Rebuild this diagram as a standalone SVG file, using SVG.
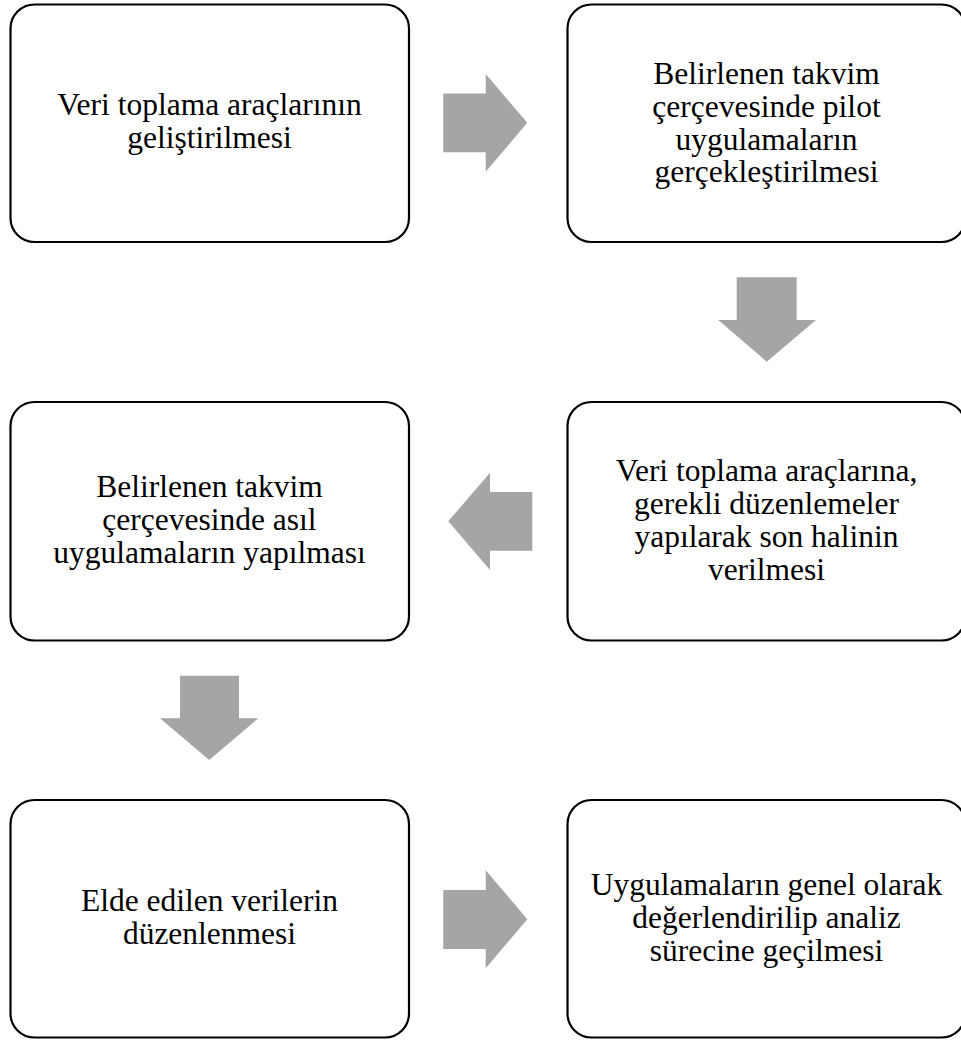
<svg xmlns="http://www.w3.org/2000/svg" width="961" height="1041" viewBox="0 0 961 1041">
<style>
.box{fill:#ffffff;stroke:#000000;stroke-width:2.2}
.arr{fill:#a5a5a5;stroke:none}
text{font-family:"Liberation Serif","Times New Roman",serif;font-size:31.5px;fill:#000000;text-anchor:middle}
</style>
<rect width="961" height="1041" fill="#ffffff"/>
<g id="connectors">
<polygon class="arr" points="443.3,93.5 485.7,93.5 485.7,74 527.3,122.8 485.7,171.7 485.7,152.3 443.3,152.3"/>
<polygon class="arr" points="736.7,277.3 796.7,277.3 796.7,320 816,320 766.7,361.7 718.3,320 736.7,320"/>
<polygon class="arr" points="532.3,492 490,492 490,472.7 448.3,521.3 490,570 490,550.7 532.3,550.7"/>
<polygon class="arr" points="180,675.7 239,675.7 239,718.3 258.3,718.3 209.2,760 160,718.3 180,718.3"/>
<polygon class="arr" points="443.3,890 485.7,890 485.7,870.3 527.3,919.2 485.7,968.3 485.7,949 443.3,949"/>
</g>
<g id="node1">
<rect class="box" x="10.5" y="4.5" width="398.5" height="237.5" rx="24" ry="24"/>
<text x="209.5" y="115">Veri toplama araçlarının</text>
<text x="209.5" y="148">geliştirilmesi</text>
</g>
<g id="node2">
<rect class="box" x="567.5" y="4.5" width="398" height="237.5" rx="24" ry="24"/>
<text x="766.5" y="83.5">Belirlenen takvim</text>
<text x="766.5" y="116.5">çerçevesinde pilot</text>
<text x="766.5" y="149.5">uygulamaların</text>
<text x="766.5" y="182">gerçekleştirilmesi</text>
</g>
<g id="node3">
<rect class="box" x="10.5" y="402" width="398.5" height="238.5" rx="24" ry="24"/>
<text x="209.5" y="497">Belirlenen takvim</text>
<text x="209.5" y="530">çerçevesinde asıl</text>
<text x="209.5" y="563">uygulamaların yapılması</text>
</g>
<g id="node4">
<rect class="box" x="567.5" y="402" width="398" height="238.5" rx="24" ry="24"/>
<text x="766.5" y="481">Veri toplama araçlarına,</text>
<text x="766.5" y="514">gerekli düzenlemeler</text>
<text x="766.5" y="547">yapılarak son halinin</text>
<text x="766.5" y="580">verilmesi</text>
</g>
<g id="node5">
<rect class="box" x="10.5" y="800" width="398.5" height="237.5" rx="24" ry="24"/>
<text x="209.5" y="911">Elde edilen verilerin</text>
<text x="209.5" y="944">düzenlenmesi</text>
</g>
<g id="node6">
<rect class="box" x="567.5" y="800" width="398" height="237.5" rx="24" ry="24"/>
<text x="766.5" y="895">Uygulamaların genel olarak</text>
<text x="766.5" y="928">değerlendirilip analiz</text>
<text x="766.5" y="961">sürecine geçilmesi</text>
</g>
</svg>
